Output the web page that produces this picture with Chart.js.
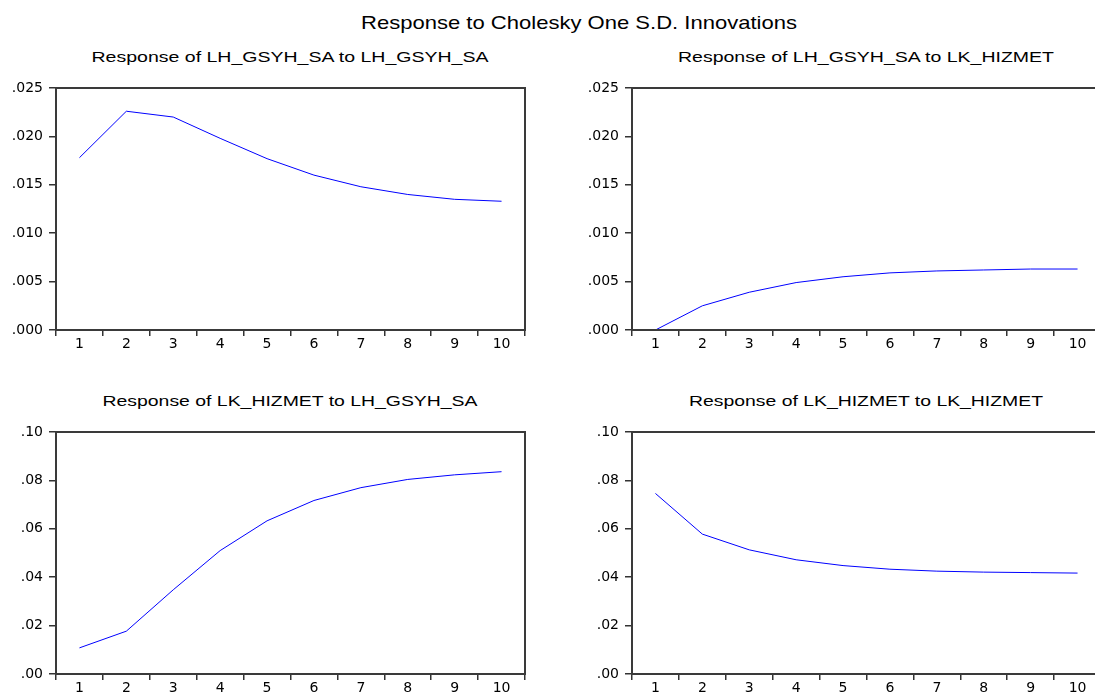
<!DOCTYPE html>
<html>
<head>
<meta charset="utf-8">
<script src="https://cdn.jsdelivr.net/npm/chart.js@4/dist/chart.umd.min.js"></script>
<style>
    html, body { margin: 0; padding: 0; background: #fff; }
    body { width: 1095px; height: 695px; overflow: hidden; position: relative; }
    canvas { position: absolute; }
    .title { position: absolute; white-space: nowrap; font-family: "Liberation Sans", Arial, sans-serif; color: #000; line-height: 1; }
</style>
</head>
<body>
<div class="title" id="mainTitle" style="font-size:19px">Response to Cholesky One S.D. Innovations</div>
<div class="title" id="t1" style="font-size:15px">Response of LH_GSYH_SA to LH_GSYH_SA</div>
<div class="title" id="t2" style="font-size:15px">Response of LH_GSYH_SA to LK_HIZMET</div>
<div class="title" id="t3" style="font-size:15px">Response of LK_HIZMET to LH_GSYH_SA</div>
<div class="title" id="t4" style="font-size:15px">Response of LK_HIZMET to LK_HIZMET</div>

<canvas id="c1" width="545" height="282" style="left:0px;top:78px"></canvas>
<canvas id="c2" width="545" height="282" style="left:576px;top:78px"></canvas>
<canvas id="c3" width="545" height="282" style="left:0px;top:422px"></canvas>
<canvas id="c4" width="545" height="282" style="left:576px;top:422px"></canvas>

<script>
// periods after the shock
const periods = ['1', '2', '3', '4', '5', '6', '7', '8', '9', '10'];

// impulse responses
const gsyhToGsyh = [0.0178, 0.0226, 0.0220, 0.0198, 0.0177, 0.0160, 0.0148, 0.0140, 0.0135, 0.0133];
const gsyhToHizmet = [0.0000, 0.0025, 0.0039, 0.0049, 0.0055, 0.0059, 0.0061, 0.0062, 0.0063, 0.0063];
const hizmetToGsyh = [0.0108, 0.0177, 0.0348, 0.0510, 0.0633, 0.0717, 0.0770, 0.0804, 0.0823, 0.0836];
const hizmetToHizmet = [0.0746, 0.0578, 0.0513, 0.0472, 0.0448, 0.0433, 0.0425, 0.0421, 0.0419, 0.0417];

// y axis ticks
const topRowTicks = [0, 0.005, 0.010, 0.015, 0.020, 0.025];
const bottomRowTicks = [0, 0.02, 0.04, 0.06, 0.08, 0.10];

// box around the plot area
const framePlugin = {
    id: 'frame',
    afterDraw(chart) {
        const a = chart.chartArea;
        const ctx = chart.ctx;
        ctx.save();
        ctx.strokeStyle = '#3a3a3a';
        ctx.lineWidth = 2;
        ctx.strokeRect(a.left, a.top, a.right - a.left, a.bottom - a.top);
        ctx.restore();
    }
};

function renderResponse(id, values, tickValues, decimals) {
    const ctx = document.getElementById(id).getContext('2d');
    new Chart(ctx, {
        type: 'line',
        data: {
            labels: periods,
            datasets: [{
                data: values,
                borderColor: '#0000ff',
                borderWidth: 1,
                pointRadius: 0,
                tension: 0,
                fill: false,
                clip: false
            }]
        },
        options: {
            responsive: false,
            animation: false,
            events: [],
            layout: { padding: { top: 10, right: 20, left: 0, bottom: 0 } },
            plugins: {
                legend: { display: false },
                tooltip: { enabled: false }
            },
            scales: {
                x: {
                    offset: true,
                    grid: { offset: true, drawOnChartArea: false, tickLength: 6, color: '#333', lineWidth: 1.5 },
                    border: { display: false },
                    ticks: {
                        color: '#000',
                        font: { family: 'DejaVu Sans', size: 14 },
                        padding: 0,
                        maxRotation: 0,
                        autoSkip: false
                    },
                    afterFit: s => { s.height = 30; s.paddingLeft = 0; s.paddingRight = 0; }
                },
                y: {
                    min: tickValues[0],
                    max: tickValues[tickValues.length - 1],
                    afterBuildTicks: s => { s.ticks = tickValues.map(v => ({ value: v })); },
                    grid: { drawOnChartArea: false, tickLength: 7, color: '#333', lineWidth: 1.5 },
                    border: { display: false },
                    ticks: {
                        color: '#000',
                        font: { family: 'DejaVu Sans', size: 14 },
                        padding: 6,
                        callback: v => Number(v).toFixed(decimals).replace(/^0/, '')
                    },
                    afterFit: s => { s.width = 56; s.paddingTop = 0; s.paddingBottom = 0; }
                }
            }
        },
        plugins: [framePlugin]
    });
}

renderResponse('c1', gsyhToGsyh, topRowTicks, 3);
renderResponse('c2', gsyhToHizmet, topRowTicks, 3);
renderResponse('c3', hizmetToGsyh, bottomRowTicks, 2);
renderResponse('c4', hizmetToHizmet, bottomRowTicks, 2);

// titles: centre, baseline and width
function placeTitle(id, cx, baseline, width) {
    const el = document.getElementById(id);
    const fs = parseFloat(el.style.fontSize);
    const w = el.getBoundingClientRect().width;
    el.style.left = cx + 'px';
    el.style.top = (baseline - 0.8465 * fs) + 'px';
    el.style.transform = 'translateX(-50%) scaleX(' + (width / w) + ')';
}
placeTitle('mainTitle', 579, 29, 436);
placeTitle('t1', 290, 62, 397);
placeTitle('t2', 866, 62, 376);
placeTitle('t3', 290, 406, 375);
placeTitle('t4', 866, 406, 354);
</script>
</body>
</html>
